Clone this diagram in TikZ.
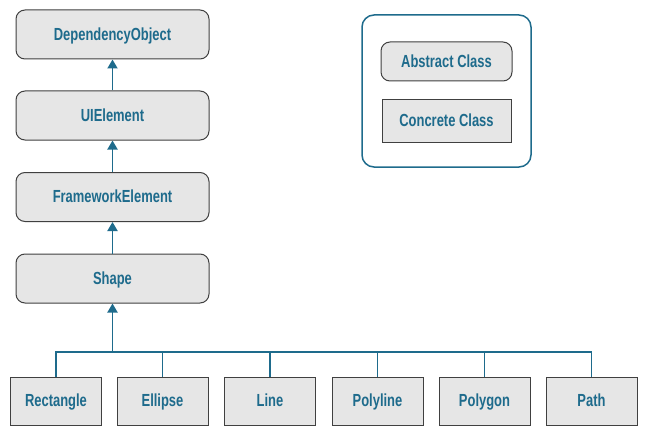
\documentclass[tikz,border=0pt]{standalone}
\usepackage{fontspec}
\setmainfont{Liberation Sans}[FakeStretch=0.74]
\usetikzlibrary{arrows.meta}
\definecolor{classblue}{HTML}{1E6B8C}
\definecolor{classgray}{HTML}{E6E6E6}
\begin{document}
\begin{tikzpicture}[x=1pt,y=-1pt]
	\tikzstyle{class}=[draw=black!75,line width=1pt,fill=classgray,text=classblue,font=\fontsize{17.5}{20}\selectfont\bfseries,inner sep=0pt,text height=12.5pt,text depth=1pt]
	\tikzstyle{abstract}=[class,rounded corners=9pt,minimum width=193pt,minimum height=49pt]
	\tikzstyle{concrete}=[class,minimum width=91pt,minimum height=48pt]
	\tikzstyle{edge}=[draw=classblue,line width=1.9pt,-{Triangle[width=10pt,length=9pt]}]
	\tikzstyle{link}=[draw=classblue,line width=1.9pt]
	\useasboundingbox (0,0) rectangle (650,441);
	% hierarchy
	\node [abstract] (c1) at (112.5,34.5) {DependencyObject};
	\node [abstract] (c2) at (112.5,115.5) {UIElement};
	\node [abstract] (c3) at (112.5,197) {FrameworkElement};
	\node [abstract] (c4) at (112.5,278.5) {Shape};
	\path[edge] (c2) -- (c1);
	\path[edge] (c3) -- (c2);
	\path[edge] (c4) -- (c3);
	% shapes
	\node [concrete] (s1) at (56,401) {Rectangle};
	\node [concrete] (s2) at (162.5,401) {Ellipse};
	\node [concrete] (s3) at (270,401) {Line};
	\node [concrete] (s4) at (377.5,401) {Polyline};
	\node [concrete] (s5) at (484.5,401) {Polygon};
	\node [concrete] (s6) at (591.5,401) {Path};
	\coordinate (bus) at (112.5,352);
	\path[link] (s1.north) |- (bus) -| (s6.north);
	\foreach \i in {2,...,5}
		\path[link] (s\i.north) -- (s\i.north |- bus);
	\path[edge] (bus) -- (c4);
	% legend
	\node [draw=classblue,line width=1.5pt,rounded corners=12pt,minimum width=169pt,minimum height=152pt] (key) at (446.5,91) {};
	\node [abstract,minimum width=131pt,minimum height=39pt] (ka) at (446.5,61.5) {Abstract Class};
	\node [concrete,minimum width=129pt,minimum height=42pt] (kc) at (446.5,121) {Concrete Class};
\end{tikzpicture}
\end{document}
